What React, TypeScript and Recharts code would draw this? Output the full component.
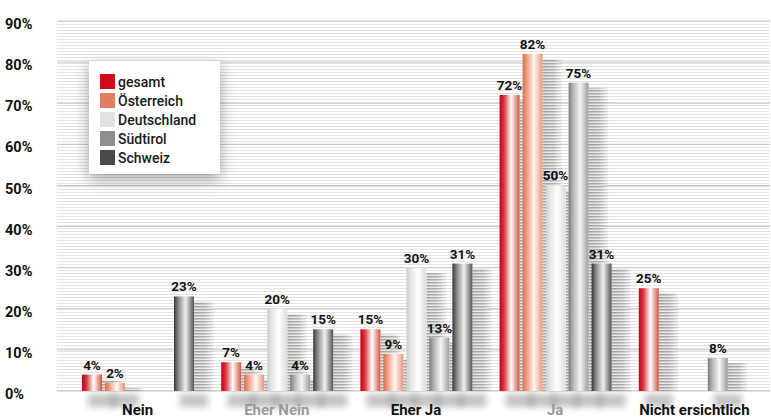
import { BarChart, Bar, XAxis, YAxis, CartesianGrid, LabelList, Legend } from "recharts";

const categories = ["Nein", "Eher Nein", "Eher Ja", "Ja", "Nicht ersichtlich"];
const gesamt = [4, 7, 15, 72, 25];
const oesterreich = [2, 4, 9, 82, 0];
const deutschland = [0, 20, 30, 50, 0];
const suedtirol = [0, 4, 13, 75, 8];
const schweiz = [23, 15, 31, 31, 0];
const yTicks = [0, 10, 20, 30, 40, 50, 60, 70, 80, 90];

const series = [
  { key: "gesamt", values: gesamt, swatch: "#d0091f", stops: ["#c4001a", "#d9353c", "#ffffff", "#d4543f"] },
  { key: "Österreich", values: oesterreich, swatch: "#e07e5f", stops: ["#de6e4e", "#eea084", "#fff8f4", "#e8967a"] },
  { key: "Deutschland", values: deutschland, swatch: "#e2e2e2", stops: ["#cdcdcd", "#e6e6e6", "#ffffff", "#dcdcdc"] },
  { key: "Südtirol", values: suedtirol, swatch: "#8e8e8e", stops: ["#7c7c7c", "#b4b4b4", "#f6f6f6", "#9c9c9c"] },
  { key: "Schweiz", values: schweiz, swatch: "#4a4a4c", stops: ["#363638", "#8a8a8a", "#f0f0f0", "#545456"] },
];

const data = categories.map((name, i) => {
  const row: Record<string, string | number> = { name };
  series.forEach((s) => (row[s.key] = s.values[i]));
  return row;
});

const font = "Roboto, 'DejaVu Sans', sans-serif";

function CylinderBar(props: any) {
  const { x, y, width, height, fill } = props;
  if (!height || height <= 0) return null;
  const base = y + height;
  const sTop = Math.min(y + 5, base);
  return (
    <g>
      <rect x={x + width} y={sTop} width={width} height={base - sTop} fill="url(#shadowStripes)" mask="url(#fade)" />
      <rect x={x + 6} y={base + 3} width={width + 8} height={13} fill="#8a8a8a" opacity={0.5} filter="url(#soft)" />
      <rect x={x} y={y} width={width} height={height} fill={fill} />
    </g>
  );
}

function YTick(props: any) {
  const { y, payload } = props;
  return (
    <text x={5} y={y + 3} dy="0.35em" fontSize={14.5} fontWeight={700} fill="#111" fontFamily={font}>
      {payload.value}%
    </text>
  );
}

function XTick(props: any) {
  const { x, y, payload, index } = props;
  return (
    <text x={x} y={y} dy={16} textAnchor="middle" fontSize={15} fontWeight={700}
      fill={index % 2 === 1 ? "#9a9a9a" : "#111"} fontFamily={font}>
      {payload.value}
    </text>
  );
}

function LegendBox() {
  return (
    <div style={{ background: "#fff", width: 131, height: 113, boxSizing: "border-box", padding: "11px 0 0 11px",
      boxShadow: "0 5px 14px rgba(0,0,0,0.35)", fontFamily: font }}>
      {series.map((s) => (
        <div key={s.key} style={{ display: "flex", alignItems: "center", height: 19 }}>
          <span style={{ width: 15, height: 15, background: s.swatch, marginRight: 3 }} />
          <span style={{ fontSize: 14, fontWeight: 500, color: "#1a1a1a" }}>{s.key}</span>
        </div>
      ))}
    </div>
  );
}

export default function App() {
  return (
    <div style={{ position: "absolute", left: 0, top: 0, background: "#fff", fontFamily: font }}>
      <BarChart width={771} height={418} data={data} margin={{ top: 21, right: 1, left: 0, bottom: 0 }}
        barSize={20} barGap={3}>
        <defs>
          <pattern id="bgStripes" patternUnits="userSpaceOnUse" width={6} height={3}>
            <rect x={0} y={0} width={6} height={3} fill="#ffffff" />
            <rect x={0} y={0} width={6} height={1} fill="#e3e3e3" />
          </pattern>
          <pattern id="shadowStripes" patternUnits="userSpaceOnUse" width={6} height={3}>
            <rect x={0} y={0} width={6} height={3} fill="#e4e4e4" />
            <rect x={0} y={0} width={6} height={1.5} fill="#a0a0a0" />
          </pattern>
          <linearGradient id="fadeH" x1="0" y1="0" x2="1" y2="0">
            <stop offset="0%" stopColor="#fff" stopOpacity={1} />
            <stop offset="55%" stopColor="#fff" stopOpacity={0.8} />
            <stop offset="100%" stopColor="#fff" stopOpacity={0.15} />
          </linearGradient>
          <mask id="fade" maskContentUnits="objectBoundingBox">
            <rect x={0} y={0} width={1} height={1} fill="url(#fadeH)" />
          </mask>
          <filter id="soft" x="-50%" y="-50%" width="200%" height="200%">
            <feGaussianBlur stdDeviation={3} />
          </filter>
          {series.map((s, i) => (
            <linearGradient key={s.key} id={`g${i}`} x1="0" y1="0" x2="1" y2="0">
              <stop offset="0%" stopColor={s.stops[0]} />
              <stop offset="22%" stopColor={s.stops[1]} />
              <stop offset="58%" stopColor={s.stops[2]} />
              <stop offset="100%" stopColor={s.stops[3]} />
            </linearGradient>
          ))}
        </defs>
        <CartesianGrid vertical={false} stroke="#c6c6c6" fill="url(#bgStripes)" fillOpacity={1} />
        <XAxis dataKey="name" axisLine={false} tickLine={false} height={27} padding={{ left: 11, right: 6 }}
          tick={<XTick />} interval={0} />
        <YAxis domain={[0, 90]} ticks={yTicks} width={57} axisLine={false} tickLine={false} tick={<YTick />} />
        <Legend layout="vertical" align="center" verticalAlign="middle" content={() => <LegendBox />}
          wrapperStyle={{ left: 89, top: 61, width: 131 }} />
        {series.map((s, i) => (
          <Bar key={s.key} dataKey={s.key} fill={`url(#g${i})`} shape={<CylinderBar />} isAnimationActive={false}>
            <LabelList dataKey={s.key} position="top" offset={5}
              formatter={(v: any) => (v ? `${v}%` : "")}
              style={{ fill: "#111", fontSize: 13.5, fontWeight: 700, fontFamily: font }} />
          </Bar>
        ))}
      </BarChart>
    </div>
  );
}
